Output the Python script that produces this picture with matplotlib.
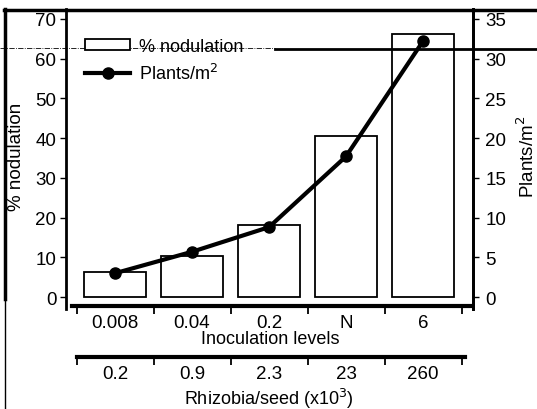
import matplotlib.pyplot as plt
from matplotlib.lines import Line2D
from matplotlib.patches import Rectangle

# values
categories = ['0.008', '0.04', '0.2', 'N', '6']
rhizobia = ['0.2', '0.9', '2.3', '23', '260']
nodulation = [6.2, 10.3, 18.2, 40.5, 66.2]
plants = [3.0, 5.7, 8.8, 17.7, 32.2]

plt.rcParams['font.family'] = ['Liberation Sans', 'DejaVu Sans']
plt.rcParams['font.size'] = 13

W, H = 537, 410
fig = plt.figure(figsize=(W / 100, H / 100), dpi=100)


def box(x0, y0, x1, y1):
    # pixel box (top-left origin) -> figure fraction
    return [x0 / W, 1 - y1 / H, (x1 - x0) / W, (y1 - y0) / H]


x = list(range(len(categories)))
xlim = ((66 - 115) / 77, (473 - 115) / 77)

ax = fig.add_axes(box(66, 10, 473, 310))
ax.bar(x, nodulation, width=0.8, color='white', edgecolor='black', linewidth=1.3, zorder=2)
ax.set_xlim(*xlim)
ax.set_ylim(-3, 72.5)
ax.set_yticks(range(0, 71, 10))
ax.set_xticks([])
ax.spines['top'].set_visible(False)
ax.spines['bottom'].set_visible(False)
ax.spines['left'].set_linewidth(2)
ax.spines['right'].set_linewidth(2)
ax.tick_params(axis='y', direction='out', length=4, width=1, pad=3, labelsize=13.5)
ax.patch.set_alpha(0)

ax2 = ax.twinx()
ax2.plot(x, plants, color='black', linewidth=3, marker='o', markersize=8, zorder=3)
ax2.set_ylim(-1.5, 36.25)
ax2.set_yticks(range(0, 36, 5))
for s in ['top', 'bottom', 'left']:
    ax2.spines[s].set_visible(False)
ax2.spines['right'].set_linewidth(2)
ax2.tick_params(axis='y', direction='out', length=4, width=1, pad=5, labelsize=13.5)

fig.text(17 / W, 1 - 157 / H, '% nodulation', rotation=90, ha='center', va='center', fontsize=13.5)
fig.text(527 / W, 1 - 157 / H, 'Plants/m$^2$', rotation=90, ha='center', va='center', fontsize=13.5)

# two category axes under the plot
for y_px, labels, span in [(307, categories, (72, 470)), (358, rhizobia, (77, 465))]:
    axb = fig.add_axes(box(66, y_px - 20, 473, y_px))
    axb.set_xlim(*xlim)
    axb.set_yticks([])
    for s in ['top', 'left', 'right']:
        axb.spines[s].set_visible(False)
    axb.spines['bottom'].set_linewidth(3)
    axb.spines['bottom'].set_bounds((span[0] - 115) / 77, (span[1] - 115) / 77)
    axb.set_xticks([i - 0.5 for i in range(len(labels) + 1)])
    axb.set_xticklabels([])
    axb.set_xticks(x, minor=True)
    axb.set_xticklabels(labels, minor=True)
    axb.tick_params(axis='x', which='major', direction='out', length=6, width=1.3)
    axb.tick_params(axis='x', which='minor', length=0, pad=6, labelsize=13.5)
    axb.patch.set_alpha(0)

fig.text(270 / W, 1 - 340 / H, 'Inoculation levels', ha='center', va='center', fontsize=13)
fig.text(269 / W, 1 - 399 / H, 'Rhizobia/seed (x10$^3$)', ha='center', va='center', fontsize=13)

# legend
handles = [Rectangle((0, 0), 1, 1, facecolor='white', edgecolor='black', linewidth=1.3),
           Line2D([], [], color='black', linewidth=3, marker='o', markersize=8)]
fig.legend(handles, ['% nodulation', 'Plants/m$^2$'], loc='upper left',
           bbox_to_anchor=(69 / W, 1 - 23 / H), frameon=False, fontsize=13,
           handlelength=2.5, handleheight=0.55, handletextpad=0.45, labelspacing=0.4)

# scan border / rule marks
fig.add_artist(Line2D([4 / W, 1], [1 - 11 / H, 1 - 11 / H], color='black', linewidth=2.5))
fig.add_artist(Line2D([5 / W, 5 / W], [1 - 10 / H, 1 - 300 / H], color='black', linewidth=2.5))
fig.add_artist(Line2D([5 / W, 5 / W], [1 - 300 / H, 0], color='black', linewidth=1))
fig.add_artist(Line2D([275 / W, 1], [1 - 50 / H, 1 - 50 / H], color='black', linewidth=2))
fig.add_artist(Line2D([0, 275 / W], [1 - 49 / H, 1 - 49 / H], color='black', linewidth=0.6, linestyle='-.'))

fig.savefig('out.png', dpi=100)
